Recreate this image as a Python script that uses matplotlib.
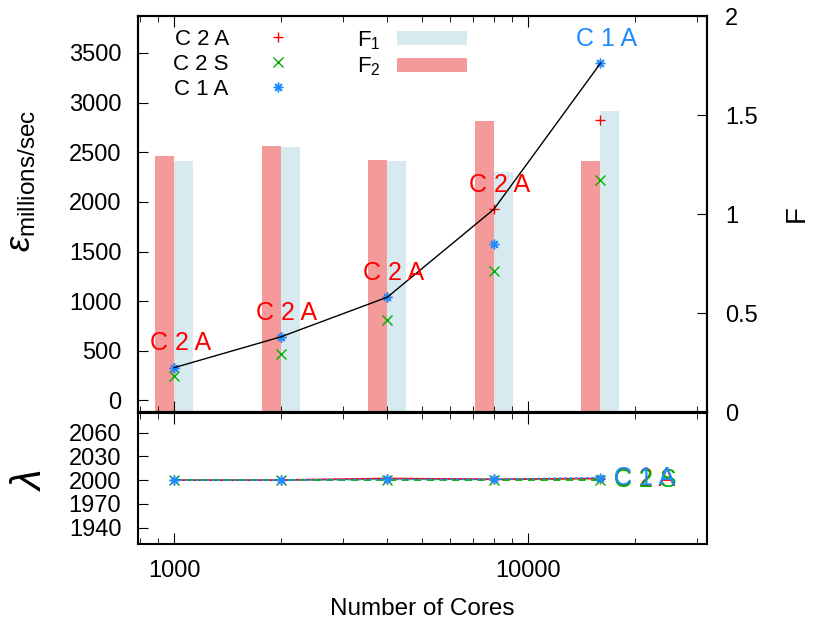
import numpy as np
import matplotlib
matplotlib.use('Agg')
import matplotlib.pyplot as plt
from matplotlib.lines import Line2D
from matplotlib.patches import Patch
from matplotlib.ticker import NullFormatter, LogLocator

plt.rcParams['font.family'] = ['Liberation Sans', 'DejaVu Sans']
plt.rcParams['mathtext.fontset'] = 'custom'
plt.rcParams['mathtext.rm'] = 'Liberation Sans'
plt.rcParams['mathtext.it'] = 'Liberation Sans:italic'
plt.rcParams['mathtext.bf'] = 'Liberation Sans:bold'

# ---- data -------------------------------------------------------------
cores = [1000, 2000, 4000, 8000, 16000]
config_names = ['C 2 A', 'C 2 S', 'C 1 A']

# throughput (millions/sec) per configuration
rate_c2a = [330, 640, 1040, 1926, 2823]
rate_c2s = [249, 470, 812, 1299, 2221]
rate_c1a = [326, 638, 1037, 1577, 3396]

# F metrics (right axis)
f1 = [1.27, 1.34, 1.27, 1.21, 1.52]
f2 = [1.295, 1.345, 1.275, 1.47, 1.27]

# lambda per configuration
lam_c2a = [2000, 2000, 2002, 2001, 2002]
lam_c2s = [2000, 2000, 2000, 2000, 2000]
lam_c1a = [2000, 2000, 2001, 2001, 2003]

eps_ticks = [0, 500, 1000, 1500, 2000, 2500, 3000, 3500]
f_ticks = [0, 0.5, 1, 1.5, 2]
f_ticklabels = ['0', '0.5', '1', '1.5', '2']
lam_ticks = [1940, 1970, 2000, 2030, 2060]
x_ticks = [1000, 10000]
x_ticklabels = ['1000', '10000']

# ---- styling ----------------------------------------------------------
RED = '#ff0000'
GREEN = '#00b000'
BLUE = '#1e8cff'
F1_COLOR = '#d6eaf0'
F2_COLOR = '#f59a9a'
ASTERISK = (8, 2, 0)
colors = [RED, GREEN, BLUE]
markers = ['+', 'x', ASTERISK]
TICK_FS = 17

fig = plt.figure(figsize=(8.2, 6.24), dpi=100)
ax = fig.add_axes([0.1683, 0.3397, 0.6939, 0.6346])
axF = ax.twinx()
ax2 = fig.add_axes([0.1683, 0.1277, 0.6939, 0.2109])

# bars on the F axis, drawn behind the throughput points
ax.set_zorder(axF.get_zorder() + 1)
ax.patch.set_visible(False)

x = np.array(cores, dtype=float)
bar_factor = 10 ** (19 / 353.6)
axF.bar(x / bar_factor, f2, width=x - x / bar_factor, align='edge',
        color=F2_COLOR, linewidth=0)
axF.bar(x, f1, width=x * bar_factor - x, align='edge',
        color=F1_COLOR, linewidth=0)

# throughput points
series = [rate_c2a, rate_c2s, rate_c1a]
for vals, c, m in zip(series, colors, markers):
    ax.plot(cores, vals, ls='none', marker=m, color=c, ms=7, mew=1.0)

# best configuration curve and its labels
a = np.array(rate_c2a)
b = np.array(rate_c1a)
best = np.maximum(a, b)
best_name = np.where(a >= b, 'C 2 A', 'C 1 A')
ax.plot(cores, best, color='black', lw=1.0)
for xc, yv, nm in zip(cores, best, best_name):
    ax.annotate(nm, (xc, yv), xytext=(4.3, 17.5), textcoords='offset points',
                ha='center', va='center', fontsize=18,
                color=RED if nm == 'C 2 A' else BLUE)

ax.set_xscale('log')
ax.set_xlim(790, 32000)
ax.set_ylim(-117, 3872)
ax.set_yticks(eps_ticks)
ax.tick_params(axis='y', which='both', direction='in', left=True, right=False,
               labelsize=TICK_FS, length=7, pad=12)
ax.tick_params(axis='x', which='both', direction='in', top=True, bottom=True,
               labelbottom=False)
ax.tick_params(axis='x', which='major', length=8)
ax.tick_params(axis='x', which='minor', length=4)
ax.xaxis.set_minor_locator(LogLocator(base=10, subs=np.arange(2, 10)))
ax.xaxis.set_minor_formatter(NullFormatter())
ax.set_xticks(x_ticks)
ax.set_ylabel(r'$\varepsilon_{\mathrm{millions/sec}}$', fontsize=25)
ax.yaxis.set_label_coords(-0.175, 0.585)

axF.set_ylim(0, 2)
axF.set_yticks(f_ticks, labels=f_ticklabels)
axF.tick_params(axis='y', direction='in', labelsize=TICK_FS, length=7, pad=13)
axF.set_ylabel('F', fontsize=20)
axF.yaxis.set_label_coords(1.135, 0.5)

for sp in list(ax.spines.values()) + list(axF.spines.values()):
    sp.set_linewidth(1.5)

# legends
pt_handles = [Line2D([], [], ls='none', marker=m, color=c, ms=7, mew=1.0)
              for c, m in zip(colors, markers)]
leg1 = ax.legend(pt_handles, config_names, loc='upper left',
                 bbox_to_anchor=(0.062, 0.967), frameon=False, markerfirst=False,
                 fontsize=16, handlelength=2.0, handletextpad=1.2,
                 labelspacing=0.17, borderpad=0, borderaxespad=0)
ax.add_artist(leg1)
bar_handles = [Patch(color=F1_COLOR, lw=0), Patch(color=F2_COLOR, lw=0)]
ax.legend(bar_handles, ['F$_1$', 'F$_2$'], loc='upper left',
          bbox_to_anchor=(0.385, 0.967), frameon=False, markerfirst=False,
          fontsize=16, handlelength=3.15, handleheight=0.6, handletextpad=0.75,
          labelspacing=0.17, borderpad=0, borderaxespad=0)

# ---- lambda panel -----------------------------------------------------
lam_series = [lam_c2a, lam_c2s, lam_c1a]
lstyles = ['-', (0, (4, 3)), (0, (1.5, 1.5))]
for vals, c, m, ls, nm in zip(lam_series, colors, markers, lstyles, config_names):
    ax2.plot(cores, vals, color=c, ls=ls, lw=1.3, marker=m, ms=7, mew=1.0)
    ax2.annotate(nm, (cores[-1], vals[-1]), xytext=(10, 0),
                 textcoords='offset points', ha='left', va='center',
                 fontsize=18, color=c)

ax2.set_xscale('log')
ax2.set_xlim(790, 32000)
ax2.set_ylim(1919, 2085)
ax2.set_yticks(lam_ticks)
ax2.set_xticks(x_ticks, labels=x_ticklabels)
ax2.xaxis.set_minor_locator(LogLocator(base=10, subs=np.arange(2, 10)))
ax2.xaxis.set_minor_formatter(NullFormatter())
ax2.tick_params(axis='y', direction='in', labelsize=TICK_FS, length=7, pad=12)
ax2.tick_params(axis='x', which='both', direction='in', top=True, bottom=True,
                labelsize=TICK_FS, pad=11)
ax2.tick_params(axis='x', which='major', length=8)
ax2.tick_params(axis='x', which='minor', length=4)
ax2.set_xlabel('Number of Cores', fontsize=17.5, labelpad=12)
ax2.set_ylabel(r'$\lambda$', fontsize=30, rotation=90)
ax2.yaxis.set_label_coords(-0.155, 0.49)
for sp in ax2.spines.values():
    sp.set_linewidth(1.5)

fig.savefig('out.png', dpi=100)
